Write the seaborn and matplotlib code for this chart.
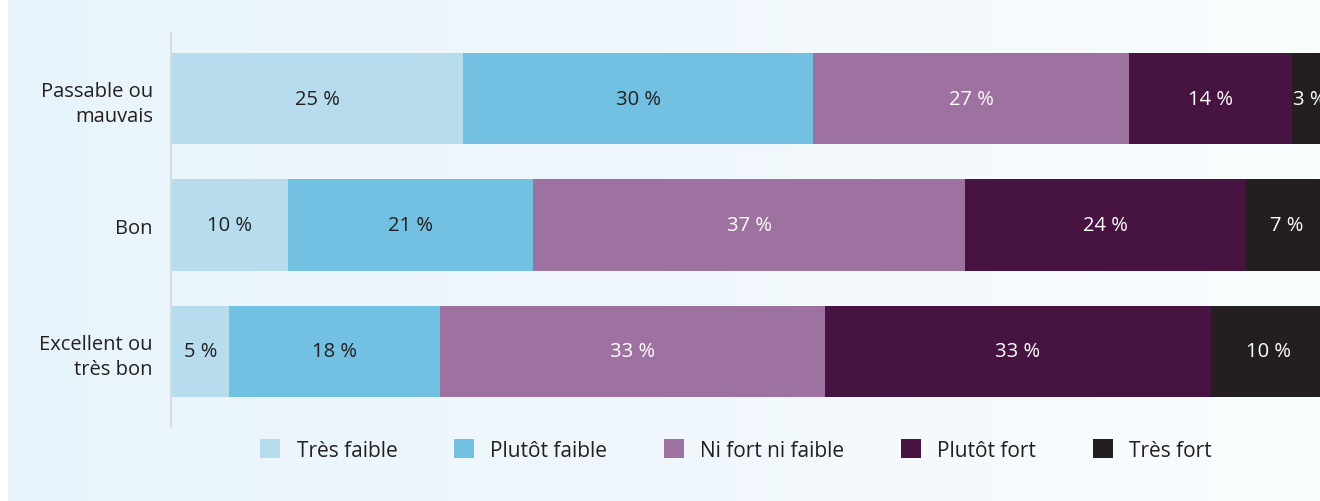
import numpy as np
import pandas as pd
import matplotlib
matplotlib.use("Agg")
import matplotlib.pyplot as plt
import seaborn as sns
from matplotlib.patches import Patch
from matplotlib.colors import LinearSegmentedColormap

# ---- data ----
categories = ["Passable ou\nmauvais", "Bon", "Excellent ou\ntrès bon"]
levels = ["Très faible", "Plutôt faible", "Ni fort ni faible", "Plutôt fort", "Très fort"]
tres_faible = [25, 10, 5]
plutot_faible = [30, 21, 18]
ni_fort_ni_faible = [27, 37, 33]
plutot_fort = [14, 24, 33]
tres_fort = [3, 7, 10]

colors = ["#B6DCEE", "#72C1E3", "#9E72A0", "#471340", "#231F20"]
label_colors = ["#231F20", "#231F20", "white", "white", "white"]

df = pd.DataFrame({
    "cat": categories,
    levels[0]: tres_faible,
    levels[1]: plutot_faible,
    levels[2]: ni_fort_ni_faible,
    levels[3]: plutot_fort,
    levels[4]: tres_fort,
})
cum = df[levels].cumsum(axis=1)

# ---- style ----
sns.set_style("white")
plt.rcParams["font.family"] = ["Open Sans", "DejaVu Sans"]
text_col = "#231F20"
fs = 14.5

fig = plt.figure(figsize=(13.2, 5.02), dpi=100)
fig.patch.set_facecolor("white")

# panel background with soft horizontal gradient
bg = fig.add_axes([8 / 1320, 0, 1 - 8 / 1320, 1], zorder=0)
cmap = LinearSegmentedColormap.from_list("panel", ["#E8F4FB", "#F0F7FC", "#FAFDFE"])
bg.imshow(np.linspace(0, 1, 256).reshape(1, -1), aspect="auto", cmap=cmap,
          extent=[0, 1, 0, 1])
bg.set_axis_off()

ax = fig.add_axes([171 / 1320, 74 / 502, 1168 / 1320, 394 / 502], zorder=1)
ax.set_facecolor("none")

# stacked bars: draw cumulative totals from the longest down
for i in range(len(levels) - 1, -1, -1):
    sns.barplot(x=cum[levels[i]], y=df["cat"], orient="h", color=colors[i],
                width=0.72, saturation=1, linewidth=0, ax=ax)

# segment labels
for j in range(len(categories)):
    for i, lev in enumerate(levels):
        v = df.loc[j, lev]
        mid = cum.loc[j, lev] - v / 2
        ax.text(mid, j, f"{v} %", ha="center", va="center", fontsize=fs,
                color=label_colors[i])

ax.set_xlim(0, 100)
ax.set_ylim(2.597, -0.518)
ax.set_xlabel("")
ax.set_ylabel("")
ax.set_xticks([])
ax.tick_params(axis="y", length=0, pad=13, labelsize=fs, labelcolor=text_col)
for t in ax.get_yticklabels():
    t.set_linespacing(1.35)
for s in ["top", "right", "bottom"]:
    ax.spines[s].set_visible(False)
ax.spines["left"].set_color("#D4D8DB")
ax.spines["left"].set_linewidth(1.2)

handles = [Patch(facecolor=c, edgecolor="none", label=l) for c, l in zip(colors, levels)]
leg = fig.legend(handles=handles, loc="center", ncol=5, frameon=False,
                 bbox_to_anchor=(736 / 1320, 1 - 451 / 502), fontsize=15,
                 handlelength=0.96, handleheight=0.96, handletextpad=0.8,
                 columnspacing=2.7)
for t in leg.get_texts():
    t.set_color(text_col)

fig.savefig("out.png", dpi=100)
